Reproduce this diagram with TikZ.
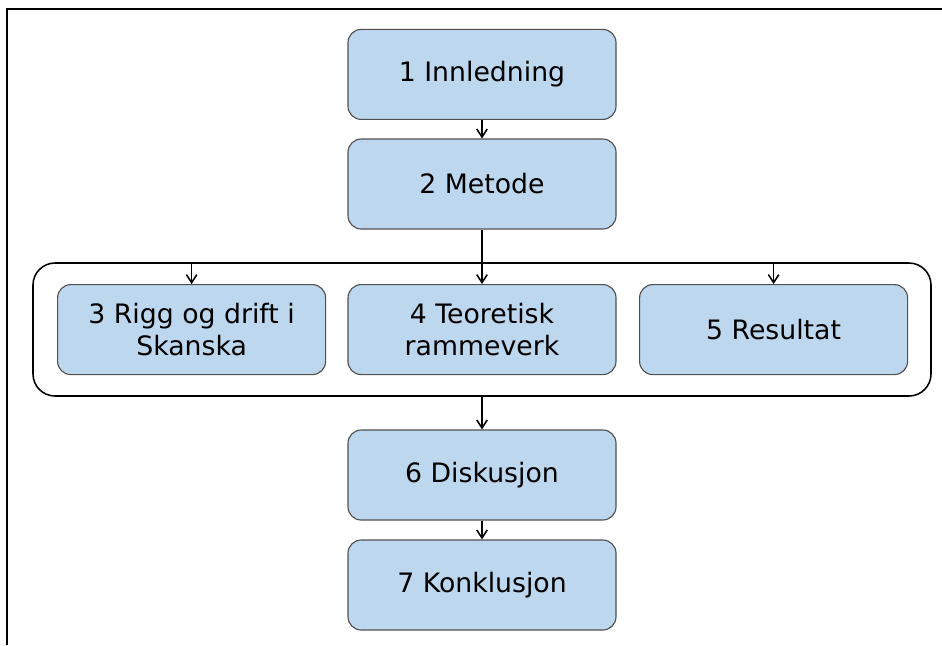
\documentclass[tikz,border=0pt]{standalone}
\usepackage{fontspec}
\setmainfont{DejaVu Sans}
\usetikzlibrary{arrows.meta}
\definecolor{boxblue}{HTML}{BDD7EE}
\definecolor{boxline}{HTML}{505050}
\begin{document}
\begin{tikzpicture}[
  chapter/.style={draw=boxline, fill=boxblue, rounded corners=0.33cm, line width=0.8pt,
    minimum width=6.7cm, minimum height=2.25cm, align=center,
    font=\fontsize{19}{22.5}\selectfont},
  group/.style={draw=black, rounded corners=0.55cm, line width=1.1pt,
    minimum width=22.45cm, minimum height=3.325cm},
  flow/.style={line width=1pt, -{Straight Barb[length=2mm,width=2.6mm,line width=1.1pt]}}]
\useasboundingbox (0,0) rectangle (23.55,-16.125);
\draw[line width=1pt] (0.175,-16.125) -- (0.175,-0.225) -- (23.55,-0.225);
\node[group] (grp) at (12.05,-8.2375) {};
\node[chapter] (b1) at (12.05,-1.86) {1 Innledning};
\node[chapter] (b2) at (12.05,-4.6) {2 Metode};
\node[chapter] (b3) at (4.79,-8.24) {3 Rigg og drift i\\Skanska};
\node[chapter] (b4) at (12.05,-8.24) {4 Teoretisk\\rammeverk};
\node[chapter] (b5) at (19.34,-8.24) {5 Resultat};
\node[chapter] (b6) at (12.05,-11.875) {6 Diskusjon};
\node[chapter] (b7) at (12.05,-14.625) {7 Konklusjon};
\draw[flow] (b1) -- (b2);
\draw[flow] (b2) -- (b4);
\draw[flow] (b3.north |- grp.north) -- (b3);
\draw[flow] (b5.north |- grp.north) -- (b5);
\draw[flow] (grp) -- (b6);
\draw[flow] (b6) -- (b7);
\end{tikzpicture}
\end{document}
